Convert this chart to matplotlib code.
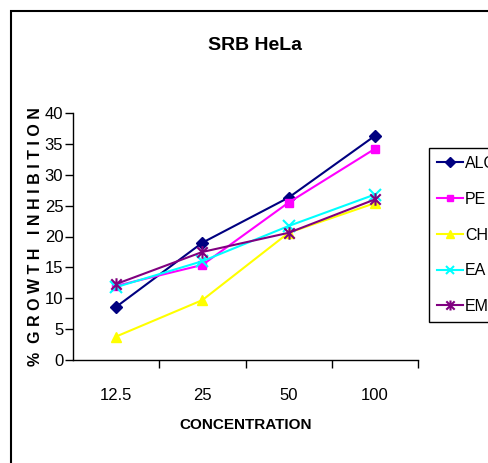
import numpy as np
import matplotlib.pyplot as plt
from matplotlib.path import Path
from matplotlib.patches import Rectangle

plt.rcParams['font.family'] = ['Liberation Sans', 'DejaVu Sans']

concentrations = ['12.5', '25', '50', '100']
alc = [8.6, 19.0, 26.3, 36.3]
pe = [12.0, 15.4, 25.5, 34.2]
ch = [3.8, 9.7, 20.6, 25.4]
ea = [11.8, 16.0, 21.7, 26.8]
emi = [12.3, 17.5, 20.6, 26.0]
series_names = ['ALC', 'PE', 'CH', 'EA', 'EMI']
y_ticks = [0, 5, 10, 15, 20, 25, 30, 35, 40]

# excel style star marker: x with a vertical bar
star = Path([(-1, -1), (1, 1), (-1, 1), (1, -1), (0, -1.2), (0, 1.2)],
            [Path.MOVETO, Path.LINETO, Path.MOVETO, Path.LINETO, Path.MOVETO, Path.LINETO])

styles = [
    ('#000080', 'D', 6),
    ('#FF00FF', 's', 6),
    ('#FFFF00', '^', 7),
    ('#00FFFF', 'x', 8),
    ('#800080', star, 9),
]

fig = plt.figure(figsize=(4.88, 4.63), dpi=100)
ax = fig.add_axes([73/488, 1-360/463, (418-73)/488, (360-113)/463])

x = np.arange(len(concentrations))
for vals, name, (c, m, ms) in zip([alc, pe, ch, ea, emi], series_names, styles):
    ax.plot(x, vals, color=c, marker=m, markersize=ms, lw=1.5, label=name,
            markeredgewidth=1.5 if m in ('x',) or m is star else 1)

ax.set_xlim(-0.5, len(concentrations) - 0.5)
ax.set_ylim(0, 40)
ax.set_yticks(y_ticks)
ax.set_xticks(x + 0.5)
ax.set_xticklabels([])
ax.set_xticks(x, minor=True)
ax.set_xticklabels(concentrations, minor=True)
ax.tick_params(axis='x', which='major', direction='out', length=6, width=1)
ax.tick_params(axis='x', which='minor', length=0, pad=20, labelsize=12)
ax.tick_params(axis='y', direction='out', length=6, width=1, pad=1, labelsize=12)
for s in ['top', 'right']:
    ax.spines[s].set_visible(False)
ax.spines['left'].set_linewidth(1)
ax.spines['bottom'].set_linewidth(1)

ax.set_xlabel('CONCENTRATION', fontsize=11, fontweight='bold', labelpad=11)
ax.set_ylabel('%  G R O W T H   I N H I B I T I O N', fontsize=11.5, fontweight='bold', labelpad=1)
fig.text(255/488, 1-45/463, 'SRB HeLa', ha='center', va='center', fontsize=14, fontweight='bold')

leg = fig.legend(loc='upper left', bbox_to_anchor=(429/488, 1-148/463), fontsize=11.5,
                 frameon=True, fancybox=False, edgecolor='black', framealpha=1,
                 borderaxespad=0, borderpad=0.5, labelspacing=1.3, handlelength=1.6,
                 handletextpad=0.15, markerscale=0.8)
leg.get_frame().set_linewidth(1)

fig.add_artist(Rectangle((11/488, -0.1), 1.2, 1-11/463 + 0.1, transform=fig.transFigure,
                         fill=False, edgecolor='black', lw=1.5))

fig.savefig('out.png', dpi=100)
